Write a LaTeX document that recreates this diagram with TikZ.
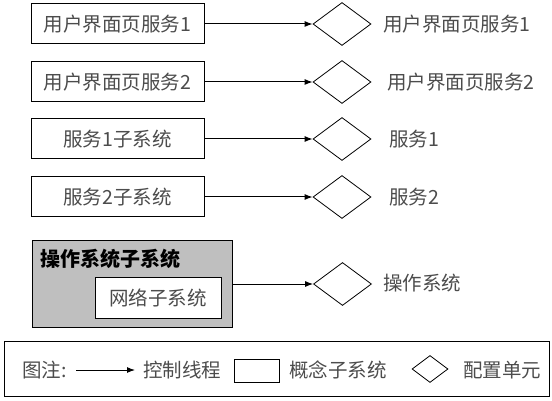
\documentclass[tikz,border=0pt]{standalone}
\usepackage{fontspec}
\setmainfont{Noto Sans CJK SC}
\usetikzlibrary{shapes.geometric,arrows.meta}
\tikzset{
  sub/.style={draw,line width=1pt,fill=white,minimum width=173pt,minimum height=40pt,inner sep=0pt,text=black!70,font=\fontsize{19.5}{21}\selectfont},
  cfg/.style={draw,line width=0.8pt,diamond,aspect=1.35,minimum width=58pt,minimum height=43pt,inner sep=0pt},
  lbl/.style={anchor=west,inner sep=0pt,text=black!70,font=\fontsize{19.5}{21}\selectfont},
  ctl/.style={line width=1pt,-{Latex[length=8pt,width=6pt]}}
}
\begin{document}
\begin{tikzpicture}[x=1pt,y=-1pt]
\useasboundingbox (0,0) rectangle (552,401);
% rows
\node[sub] (b1) at (117.5,24) {用户界面页服务1};
\node[sub] (b2) at (117.5,82) {用户界面页服务2};
\node[sub] (b3) at (117.5,139) {服务1子系统};
\node[sub] (b4) at (117.5,197) {服务2子系统};
\node[cfg] (d1) at (342,24) {};
\node[cfg] (d2) at (342,82) {};
\node[cfg] (d3) at (342,139) {};
\node[cfg] (d4) at (342,197) {};
\node[lbl] (l1) at (383,24) {用户界面页服务1};
\node[lbl] (l2) at (387,82) {用户界面页服务2};
\node[lbl] (l3) at (389,139) {服务1};
\node[lbl] (l4) at (389,197) {服务2};
\draw[ctl] (b1.east) -- (d1.west);
\draw[ctl] (b2.east) -- (d2.west);
\draw[ctl] (b3.east) -- (d3.west);
\draw[ctl] (b4.east) -- (d4.west);
% OS subsystem
\node[draw,line width=1pt,fill=black!25,minimum width=200pt,minimum height=87pt,inner sep=0pt] (os) at (132,283.5) {};
\node[anchor=west,inner sep=0pt,font=\fontsize{20}{22}\selectfont\bfseries] (ost) at (40,259) {操作系统子系统};
\node[sub,minimum width=126pt,minimum height=41pt] (net) at (158,297.5) {网络子系统};
\node[cfg] (d5) at (342.5,284) {};
\node[lbl] (l5) at (383,283) {操作系统};
\draw[ctl] (os.east |- d5.west) -- (d5.west);
% legend
\node[draw,line width=1pt,minimum width=545pt,minimum height=55pt,inner sep=0pt] (leg) at (276.5,368.5) {};
\node[lbl] (lg) at (22,370) {图注:};
\coordinate (a1) at (76,370);
\coordinate (a2) at (135,370);
\draw[ctl] (a1) -- (a2);
\node[lbl] (lc) at (143,370) {控制线程};
\node[draw,line width=1pt,minimum width=45pt,minimum height=23pt,inner sep=0pt] (lr) at (257,370.5) {};
\node[lbl] (ls) at (289,370) {概念子系统};
\node[cfg,minimum width=36pt,minimum height=27pt] (ld) at (430,369) {};
\node[lbl] (lu) at (463,370) {配置单元};
\end{tikzpicture}
\end{document}
